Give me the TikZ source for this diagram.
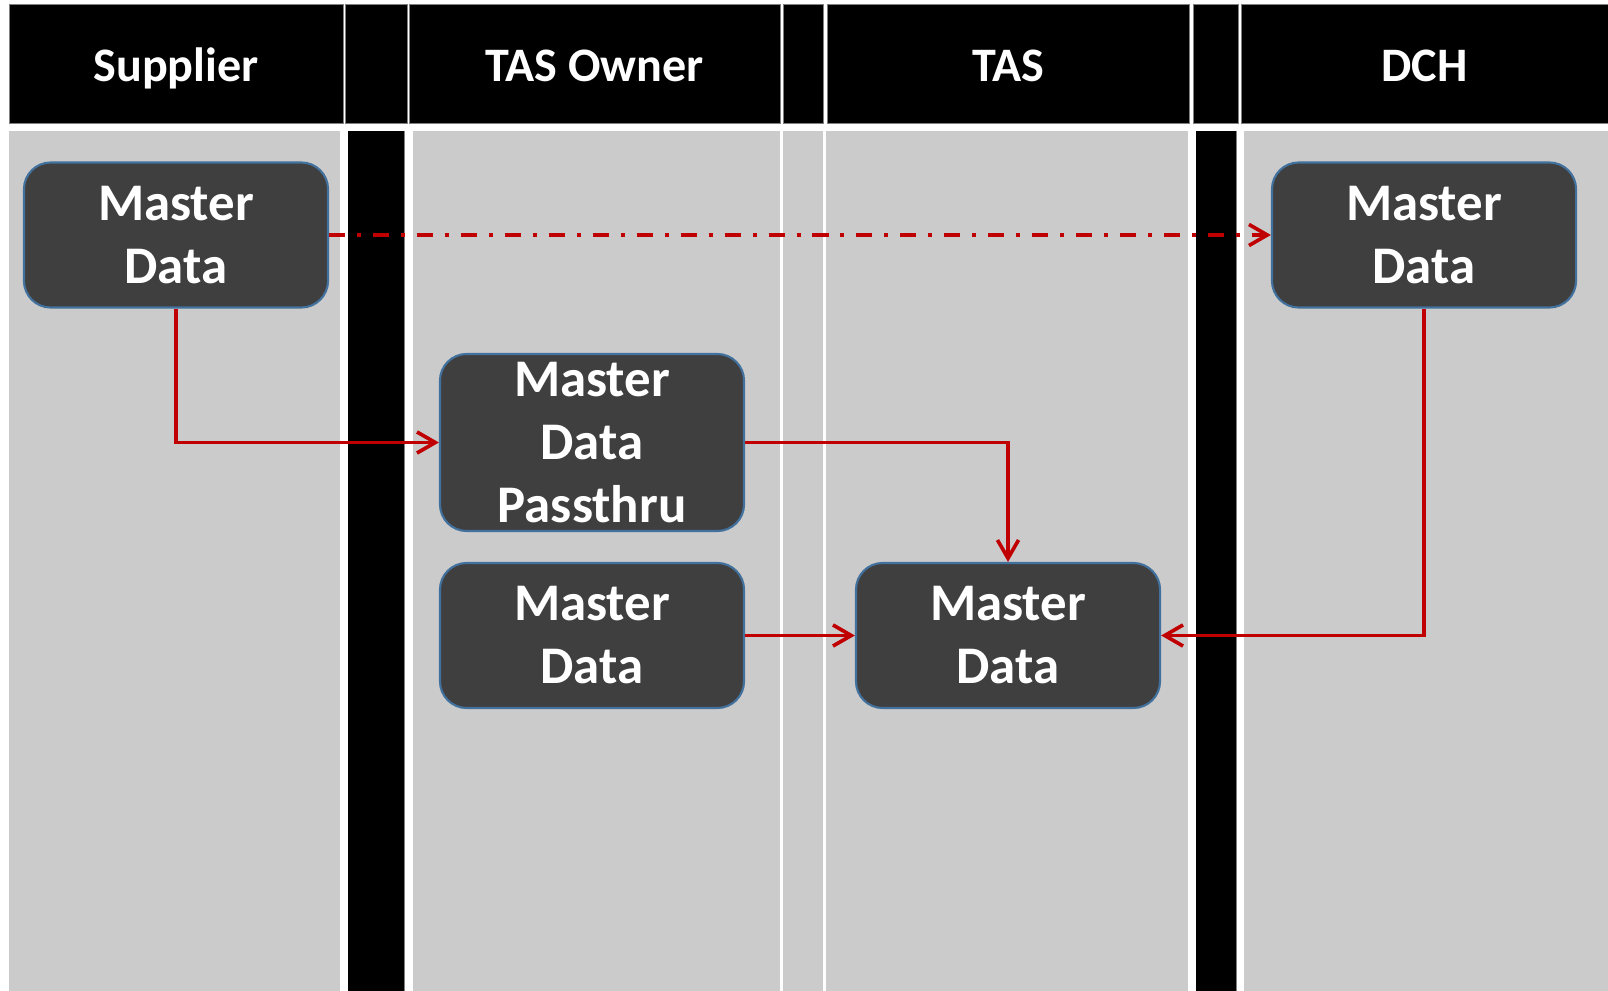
\documentclass[tikz,border=0pt]{standalone}
\usepackage{fontspec}
\setmainfont{Carlito}
\usepackage{tikz}
\usetikzlibrary{arrows.meta}

\definecolor{lanegray}{RGB}{203,203,203}
\definecolor{boxgray}{RGB}{63,63,63}
\definecolor{boxline}{RGB}{65,113,156}
\definecolor{flowred}{RGB}{192,0,0}

\tikzset{
  headcell/.style={fill=black, draw=gray, line width=0.7pt},
  headtext/.style={anchor=base, text=white, font=\bfseries\fontsize{34.2}{40}\selectfont},
  mdbox/.style={rounded corners=19pt, fill=boxgray, draw=boxline, line width=1.5pt,
    text=white, align=center, inner sep=0pt, minimum width=7.6cm, minimum height=3.625cm,
    font=\bfseries\fontsize{37.6}{44.8}\selectfont,
    execute at begin node={\rule{0pt}{32pt}}},
  flow/.style={draw=flowred, line width=2.6pt, -{Straight Barb[length=13pt,width=15pt]}},
  dashdot/.style={dash pattern=on 11.4pt off 8.5pt on 2.85pt off 8.5pt}
}

\begin{document}
\begin{tikzpicture}[x=0.025cm,y=-0.025cm]
\useasboundingbox (0,0) rectangle (1608,991);
% lanes
\foreach \a/\b in {9/340, 413/780, 783/823, 826/1188, 1244/1608}
    \fill[lanegray] (\a,131) rectangle (\b,991);
\foreach \a/\b in {348/404, 1196/1236}
    {\fill[black] (\a,131) rectangle (\b,991);
    \draw[gray, line width=0.7pt] (\b,131) -- (\b,991);}
% header row
\foreach \a/\b in {9/343, 345/407, 409/780, 783/823, 827/1189, 1193/1238, 1241/1608}
    \draw[headcell] (\a,4) rectangle (\b,123);
\node[headtext] (hsup) at (176,82) {Supplier};
\node[headtext] (hown) at (594.5,82) {TAS Owner};
\node[headtext] (htas) at (1008,82) {TAS};
\node[headtext] (hdch) at (1424.5,82) {DCH};
% boxes
\node[mdbox] (supMD) at (176,235) {Master\\Data};
\node[mdbox] (dchMD) at (1424,235) {Master\\Data};
\node[mdbox, minimum height=4.425cm] (passMD) at (592,442.5) {Master\\Data\\Passthru};
\node[mdbox] (ownMD) at (592,635.5) {Master\\Data};
\node[mdbox] (tasMD) at (1008,635.5) {Master\\Data};
% flows
\draw[flow, dashdot] (supMD.east) -- (dchMD.west);
\draw[flow] (supMD.south) |- (passMD.west);
\draw[flow] (passMD.east) -| (tasMD.north);
\draw[flow] (ownMD.east) -- (tasMD.west);
\draw[flow] (dchMD.south) |- (tasMD.east);
\end{tikzpicture}
\end{document}
